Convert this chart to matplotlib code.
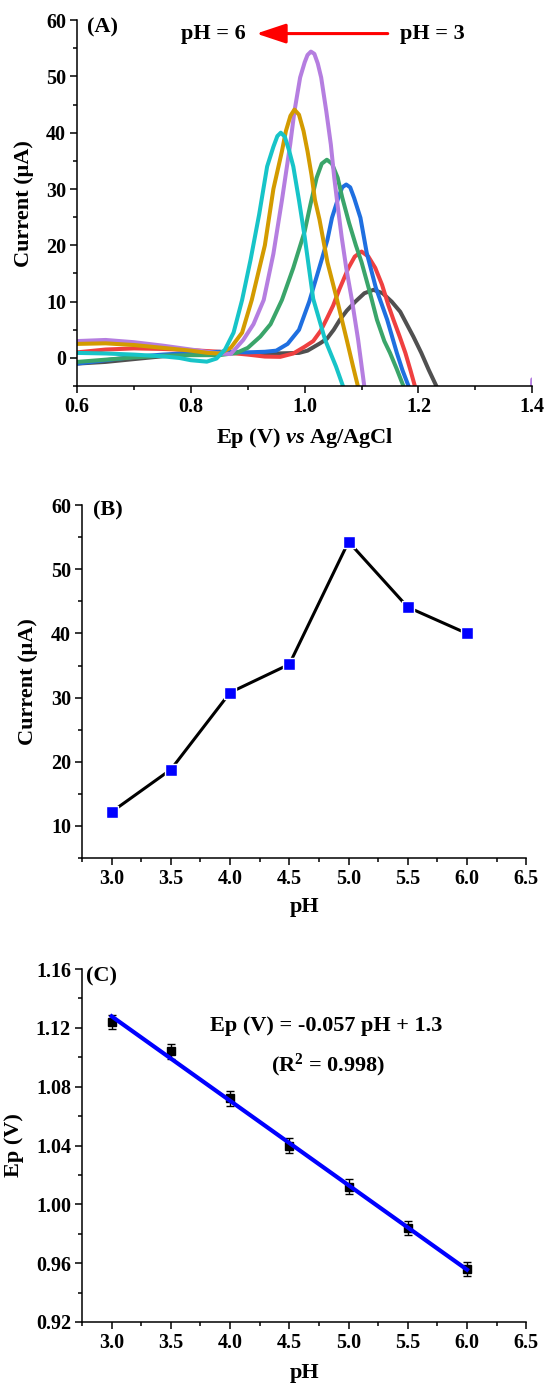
import numpy as np
import matplotlib.pyplot as plt
from matplotlib.ticker import MultipleLocator, FormatStrFormatter

plt.rcParams['font.family'] = ['Liberation Serif', 'DejaVu Serif']
plt.rcParams['font.weight'] = 'bold'
plt.rcParams['axes.labelweight'] = 'bold'
plt.rcParams['mathtext.fontset'] = 'custom'
plt.rcParams['mathtext.rm'] = 'Liberation Serif:bold'
plt.rcParams['mathtext.it'] = 'Liberation Serif:italic:bold'
plt.rcParams['mathtext.bf'] = 'Liberation Serif:bold'

# ---- panel A: DPV curves (V, uA)
v_ph30 = [0.60, 0.65, 0.70, 0.75, 0.80, 0.85, 0.90, 0.95, 0.99, 1.005, 1.027, 1.039, 1.051, 1.062, 1.074, 1.089, 1.105, 1.121, 1.137, 1.153, 1.168, 1.18, 1.191, 1.205, 1.218, 1.232, 1.245]
i_ph30 = [-1.0, -0.7, -0.2, 0.3, 0.6, 0.8, 0.9, 0.8, 0.9, 1.3, 2.6, 3.4, 5.0, 6.8, 8.4, 10.0, 11.5, 12.1, 11.5, 10.0, 8.2, 5.9, 3.8, 0.9, -2.1, -5.1, -8.0]

v_ph35 = [0.60, 0.65, 0.70, 0.75, 0.80, 0.85, 0.90, 0.93, 0.957, 0.98, 1.00, 1.015, 1.028, 1.039, 1.05, 1.061, 1.077, 1.088, 1.10, 1.112, 1.124, 1.136, 1.147, 1.156, 1.167, 1.177, 1.186, 1.194, 1.205]
i_ph35 = [1.0, 1.5, 1.7, 1.6, 1.4, 1.1, 0.6, 0.25, 0.2, 0.8, 2.0, 3.0, 4.8, 7.0, 9.3, 12.2, 16.0, 18.0, 18.9, 18.0, 16.0, 13.0, 9.4, 6.8, 3.8, 0.9, -2.2, -5.1, -9.0]

v_ph40 = [0.60, 0.65, 0.70, 0.75, 0.80, 0.85, 0.90, 0.93, 0.95, 0.97, 0.99, 1.008, 1.03, 1.04, 1.048, 1.059, 1.066, 1.073, 1.08, 1.087, 1.098, 1.109, 1.125, 1.145, 1.162, 1.172, 1.183, 1.195]
i_ph40 = [-1.0, -0.4, 0.2, 0.6, 0.9, 1.1, 1.0, 1.1, 1.3, 2.5, 5.0, 10.0, 17.5, 21.0, 24.9, 28.4, 30.3, 30.8, 30.3, 28.4, 24.9, 18.7, 12.5, 6.8, 0.9, -2.2, -5.1, -9.0]

v_ph45 = [0.60, 0.65, 0.70, 0.75, 0.80, 0.85, 0.88, 0.90, 0.922, 0.94, 0.96, 0.98, 1.00, 1.01, 1.021, 1.03, 1.039, 1.048, 1.058, 1.066, 1.078, 1.09, 1.10, 1.115, 1.127, 1.14, 1.15, 1.162, 1.174, 1.185]
i_ph45 = [-0.7, -0.3, 0.1, 0.4, 0.5, 0.5, 0.9, 1.8, 3.8, 6.0, 10.3, 16.0, 22.5, 27.2, 32.0, 34.5, 35.2, 34.5, 32.0, 28.5, 24.0, 20.0, 17.0, 11.5, 6.8, 3.0, 0.9, -2.0, -5.1, -8.0]

v_ph50 = [0.60, 0.65, 0.70, 0.75, 0.80, 0.85, 0.87, 0.892, 0.91, 0.928, 0.945, 0.96, 0.9745, 0.982, 0.992, 1.00, 1.005, 1.011, 1.017, 1.023, 1.029, 1.038, 1.046, 1.052, 1.058, 1.065, 1.073, 1.083, 1.094, 1.105, 1.115, 1.395, 1.40]
i_ph50 = [3.0, 3.2, 2.8, 2.2, 1.5, 0.8, 0.7, 3.2, 6.0, 10.3, 18.5, 28.0, 37.9, 43.8, 49.8, 52.5, 53.8, 54.4, 54.0, 52.3, 49.8, 43.8, 37.9, 32.0, 27.0, 21.5, 16.0, 10.3, 3.2, -5.2, -12.0, -20.0, -3.8]

v_ph55 = [0.60, 0.65, 0.70, 0.75, 0.80, 0.83, 0.85, 0.87, 0.89, 0.907, 0.93, 0.945, 0.96, 0.967, 0.975, 0.982, 0.99, 0.998, 1.005, 1.012, 1.018, 1.026, 1.04, 1.057, 1.074, 1.085, 1.094, 1.105]
i_ph55 = [2.5, 2.6, 2.3, 1.8, 1.3, 0.9, 0.8, 1.8, 4.5, 10.3, 20.0, 30.0, 36.7, 40.3, 43.0, 44.1, 43.2, 40.3, 36.7, 32.5, 28.1, 24.6, 17.0, 10.3, 3.2, -1.5, -5.2, -9.0]

v_ph60 = [0.60, 0.65, 0.70, 0.75, 0.78, 0.80, 0.828, 0.845, 0.86, 0.875, 0.89, 0.905, 0.92, 0.934, 0.945, 0.952, 0.958, 0.965, 0.973, 0.98, 0.99, 1.00, 1.015, 1.036, 1.055, 1.068, 1.08]
i_ph60 = [0.9, 0.8, 0.6, 0.3, 0.0, -0.4, -0.65, -0.1, 1.5, 4.5, 10.3, 17.5, 25.5, 34.0, 37.5, 39.4, 40.0, 39.3, 36.7, 34.0, 28.0, 21.5, 10.5, 3.2, -1.5, -5.2, -7.0]

curves = [(v_ph30, i_ph30, '#505050'), (v_ph35, i_ph35, '#ef4040'),
          (v_ph40, i_ph40, '#1f6fe0'), (v_ph45, i_ph45, '#3aa56a'),
          (v_ph50, i_ph50, '#b57ee0'), (v_ph55, i_ph55, '#d39b00'),
          (v_ph60, i_ph60, '#17c4c8')]

# ---- panel B / C
ph = [3.0, 3.5, 4.0, 4.5, 5.0, 5.5, 6.0]
peak_current = [12.2, 18.8, 30.8, 35.2, 54.3, 44.1, 40.0]
ep = [1.124, 1.104, 1.072, 1.040, 1.012, 0.984, 0.956]
ep_err = [0.005, 0.005, 0.005, 0.005, 0.005, 0.005, 0.005]


def style(ax):
    for s in ['top', 'right']:
        ax.spines[s].set_visible(False)
    for s in ['left', 'bottom']:
        ax.spines[s].set_linewidth(1.1)
    ax.tick_params(which='major', direction='out', length=5, width=1.1, labelsize=14.5, pad=3)
    ax.tick_params(which='minor', direction='out', length=3, width=1.1)


fig = plt.figure(figsize=(5.47, 13.84), dpi=100)

# A
axA = fig.add_axes([0.141, 0.721, 0.832, 0.2645])
for v, i, c in curves:
    axA.plot(v, i, color=c, lw=2.9, solid_capstyle='round', solid_joinstyle='round')
axA.set_xlim(0.6, 1.4)
axA.set_ylim(-5, 60)
axA.xaxis.set_major_locator(MultipleLocator(0.2))
axA.xaxis.set_minor_locator(MultipleLocator(0.1))
axA.xaxis.set_major_formatter(FormatStrFormatter('%.1f'))
axA.yaxis.set_major_locator(MultipleLocator(10))
axA.yaxis.set_minor_locator(MultipleLocator(5))
style(axA)
axA.set_xlabel(r'Ep (V) $\mathit{vs}$ Ag/AgCl', fontsize=16)
axA.set_ylabel('Current (μA)', fontsize=16)
axA.xaxis.set_label_coords(0.5, -0.11)
axA.yaxis.set_label_coords(-0.095, 0.5)
axA.text(0.022, 0.981, '(A)', transform=axA.transAxes, fontsize=16, va='center', ha='left')
axA.annotate('', xy=(0.915, 57.6), xytext=(1.146, 57.6),
             arrowprops=dict(arrowstyle='-|>,head_length=0.9,head_width=0.3',
                             color='red', lw=2.2, mutation_scale=20, shrinkA=0, shrinkB=0))
axA.text(0.840, 57.6, 'pH = 6', fontsize=16, ha='center', va='center')
axA.text(1.225, 57.6, 'pH = 3', fontsize=16, ha='center', va='center')

# B
axB = fig.add_axes([0.150, 0.380, 0.812, 0.255])
axB.plot(ph, peak_current, color='black', lw=2.2, marker='s', markersize=8,
         markerfacecolor='#0000ff', markeredgecolor='white', markeredgewidth=1)
axB.set_xlim(2.75, 6.5)
axB.set_ylim(5, 60)
axB.xaxis.set_major_locator(MultipleLocator(0.5))
axB.xaxis.set_minor_locator(MultipleLocator(0.25))
axB.xaxis.set_major_formatter(FormatStrFormatter('%.1f'))
axB.yaxis.set_major_locator(MultipleLocator(10))
axB.yaxis.set_minor_locator(MultipleLocator(5))
style(axB)
axB.set_xlabel('pH', fontsize=16)
axB.set_ylabel('Current (μA)', fontsize=16)
axB.xaxis.set_label_coords(0.5, -0.11)
axB.yaxis.set_label_coords(-0.1, 0.5)
axB.text(0.024, 0.984, '(B)', transform=axB.transAxes, fontsize=16, va='center', ha='left')

# C
axC = fig.add_axes([0.150, 0.0448, 0.812, 0.255])
axC.errorbar(ph, ep, yerr=ep_err, fmt='s', color='black', markersize=6,
             ecolor='black', elinewidth=1, capsize=3, capthick=1, zorder=2)
slope, icept = np.polyfit(ph, ep, 1)
fit_x = np.array([ph[0], ph[-1]])
axC.plot(fit_x, slope * fit_x + icept, color='#0000ff', lw=3, zorder=3)
axC.set_xlim(2.75, 6.5)
axC.set_ylim(0.92, 1.16)
axC.xaxis.set_major_locator(MultipleLocator(0.5))
axC.xaxis.set_minor_locator(MultipleLocator(0.25))
axC.xaxis.set_major_formatter(FormatStrFormatter('%.1f'))
axC.yaxis.set_major_locator(MultipleLocator(0.04))
axC.yaxis.set_minor_locator(MultipleLocator(0.02))
axC.yaxis.set_major_formatter(FormatStrFormatter('%.2f'))
style(axC)
axC.set_xlabel('pH', fontsize=16)
axC.set_ylabel('Ep (V)', fontsize=16)
axC.xaxis.set_label_coords(0.5, -0.115)
axC.yaxis.set_label_coords(-0.13, 0.5)
axC.text(0.010, 0.978, '(C)', transform=axC.transAxes, fontsize=16, va='center', ha='left')
axC.text(4.81, 1.1212, 'Ep (V) = -0.057 pH + 1.3', fontsize=16, ha='center', va='center')
axC.text(4.83, 1.0947, r'(R$^{\mathbf{2}}$ = 0.998)', fontsize=16, ha='center', va='center')

fig.savefig('out.png', dpi=100)
